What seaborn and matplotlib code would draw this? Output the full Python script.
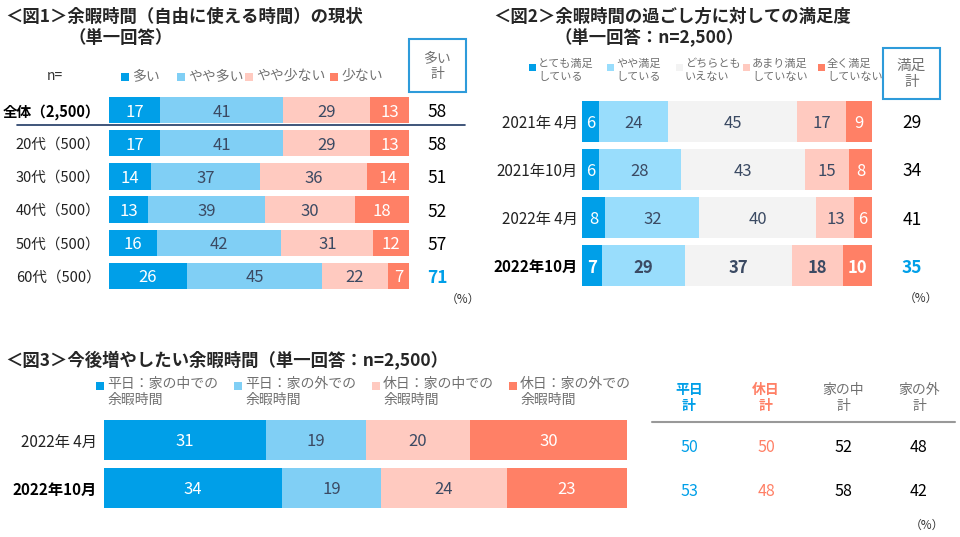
import numpy as np
import seaborn as sns
import matplotlib.pyplot as plt
from matplotlib.lines import Line2D
from matplotlib.patches import Rectangle

sns.set_theme(style="white")
plt.rcParams['font.family'] = ['Noto Sans CJK JP', 'DejaVu Sans']

# colours
dark_blue = "#009FE8"
light_blue = "#80CFF5"
light_blue2 = "#99DDFC"
neutral = "#F3F3F3"
pink = "#FFCAC0"
red = "#FF8066"
ink = "#3B4A63"
gray = "#707070"
box_blue = "#2E9BDA"

# Fig 1 data
fig1_rows = ['全体（2,500）', '20代（500）', '30代（500）', '40代（500）', '50代（500）', '60代（500）']
fig1_many = [17, 17, 14, 13, 16, 26]
fig1_bit_many = [41, 41, 37, 39, 42, 45]
fig1_bit_few = [29, 29, 36, 30, 31, 22]
fig1_few = [13, 13, 14, 18, 12, 7]
fig1_total = [58, 58, 51, 52, 57, 71]
fig1_legend = ['多い', 'やや多い', 'やや少ない', '少ない']

# Fig 2 data
fig2_rows = ['2021年 4月', '2021年10月', '2022年 4月', '2022年10月']
fig2_very = [6, 6, 8, 7]
fig2_some = [24, 28, 32, 29]
fig2_neither = [45, 43, 40, 37]
fig2_not_much = [17, 15, 13, 18]
fig2_not_at_all = [9, 8, 6, 10]
fig2_total = [29, 34, 41, 35]
fig2_legend = ['とても満足\nしている', 'やや満足\nしている', 'どちらとも\nいえない',
               'あまり満足\nしていない', '全く満足\nしていない']

# Fig 3 data
fig3_rows = ['2022年 4月', '2022年10月']
fig3_wd_in = [31, 34]
fig3_wd_out = [19, 19]
fig3_hd_in = [20, 24]
fig3_hd_out = [30, 23]
fig3_legend = ['平日：家の中での\n余暇時間', '平日：家の外での\n余暇時間',
               '休日：家の中での\n余暇時間', '休日：家の外での\n余暇時間']
fig3_cols = ['平日\n計', '休日\n計', '家の中\n計', '家の外\n計']
fig3_wd_total = [50, 53]
fig3_hd_total = [50, 48]
fig3_in_total = [52, 58]
fig3_out_total = [48, 42]

W, H = 960, 537
fig = plt.figure(figsize=(W / 100, H / 100), dpi=100)


def fx(x):
    return x / W


def fy(y):
    return 1 - y / H


def axes_px(left, right, top, bottom):
    return fig.add_axes([fx(left), fy(bottom), (right - left) / W, (bottom - top) / H])


def square(x, y, size, color):
    # legend key, x = left edge, y = vertical centre (pixels)
    fig.add_artist(Rectangle((fx(x), fy(y + size / 2)), size / W, size / H,
                             facecolor=color, edgecolor='none'))


def stacked(ax, rows, segments, colors, text_colors, width, bold_row=None,
            fs=11, bold_values=False, tick_fs=11, tick_pad=6):
    vals = np.array(segments, dtype=float)
    shares = vals / vals.sum(axis=0) * 100
    cum = shares.cumsum(axis=0)
    # draw cumulative bars from longest to shortest -> stacked look
    for k in range(len(segments) - 1, -1, -1):
        sns.barplot(x=cum[k], y=rows, order=rows, color=colors[k], width=width,
                    saturation=1, errorbar=None, orient='h', linewidth=0, ax=ax)
    for k in range(len(segments)):
        for i in range(len(rows)):
            w = 'bold' if (bold_values and i == bold_row) else 'normal'
            ax.text(cum[k][i] - shares[k][i] / 2, i, f"{int(vals[k][i])}",
                    ha='center', va='center_baseline', color=text_colors[k],
                    fontsize=fs, fontweight=w)
    ax.set_xlim(0, 100)
    ax.set_ylim(len(rows) - 0.5, -0.5)
    ax.set_xlabel('')
    ax.set_ylabel('')
    ax.set_xticks([])
    ax.set_yticks(range(len(rows)))
    ax.set_yticklabels(rows, fontsize=tick_fs)
    for i, lab in enumerate(ax.get_yticklabels()):
        if i == bold_row:
            lab.set_fontweight('bold')
            lab.set_color('black')
        else:
            lab.set_color('#222222')
    ax.tick_params(axis='y', length=0, pad=tick_pad)
    sns.despine(ax=ax, left=True, bottom=True)
    ax.set_facecolor('none')


# ---------------- Fig 1 ----------------
fig.text(fx(5), fy(17), '＜図1＞余暇時間（自由に使える時間）の現状', fontsize=12.5,
         fontweight='bold', va='center', ha='left')
fig.text(fx(68), fy(38), '（単一回答）', fontsize=12.5, fontweight='bold', va='center', ha='left')

ax1 = axes_px(109, 409, 93.5, 292.5)
stacked(ax1, fig1_rows, [fig1_many, fig1_bit_many, fig1_bit_few, fig1_few],
        [dark_blue, light_blue, pink, red], ['white', ink, ink, 'white'],
        width=0.79, bold_row=0, fs=12, tick_fs=10.5, tick_pad=6)
for i, v in enumerate(fig1_total):
    hi = i == len(fig1_total) - 1
    ax1.text(109.3, i, str(v), ha='center', va='center_baseline', fontsize=12.5,
             color=dark_blue if hi else 'black', fontweight='bold' if hi else 'normal',
             clip_on=False)
fig.text(fx(463), fy(299), '（%）', fontsize=8.5, ha='center', va='center', color='#333333')
fig.add_artist(Line2D([fx(17), fx(465)], [fy(124.5), fy(124.5)], color='#1F3864', lw=1.2))

fig.text(fx(55), fy(76), 'n=', fontsize=10, ha='center', va='center', color='#333333')
for x, c, lab in zip([121, 177, 245, 330], [dark_blue, light_blue, pink, red], fig1_legend):
    square(x, 77, 8, c)
    fig.text(fx(x + 11), fy(76), lab, color=gray, fontsize=10, ha='left', va='center')

fig.add_artist(Rectangle((fx(408.5), fy(92)), 57 / W, 53 / H, fill=False,
                         edgecolor=box_blue, lw=1.5))
fig.text(fx(437), fy(66), '多い\n計', fontsize=10, color=gray, ha='center', va='center',
         linespacing=1.2)

# ---------------- Fig 2 ----------------
fig.text(fx(493), fy(17), '＜図2＞余暇時間の過ごし方に対しての満足度', fontsize=12.5,
         fontweight='bold', va='center', ha='left')
fig.text(fx(554), fy(38), '（単一回答：n=2,500）', fontsize=12.5, fontweight='bold',
         va='center', ha='left')

ax2 = axes_px(582, 872, 97, 290)
stacked(ax2, fig2_rows, [fig2_very, fig2_some, fig2_neither, fig2_not_much, fig2_not_at_all],
        [dark_blue, light_blue2, neutral, pink, red], ['white', ink, ink, ink, 'white'],
        width=0.85, bold_row=3, fs=12, bold_values=True, tick_fs=11, tick_pad=3)
for i, v in enumerate(fig2_total):
    hi = i == len(fig2_total) - 1
    ax2.text(113.8, i, str(v), ha='center', va='center_baseline', fontsize=12.5,
             color=dark_blue if hi else 'black', fontweight='bold' if hi else 'normal',
             clip_on=False)
fig.text(fx(921), fy(298), '（%）', fontsize=8.5, ha='center', va='center', color='#333333')

for x, c, lab in zip([529, 607, 676, 743, 818],
                     [dark_blue, light_blue2, neutral, pink, red], fig2_legend):
    square(x, 67, 7, c)
    fig.text(fx(x + 9), fy(59), lab, color=gray, fontsize=8, ha='left', va='top',
             linespacing=1.3)

fig.add_artist(Rectangle((fx(883), fy(99)), 57 / W, 51 / H, fill=False,
                         edgecolor=box_blue, lw=1.5))
fig.text(fx(911.5), fy(74), '満足\n計', fontsize=10.5, color=gray, ha='center', va='center',
         linespacing=1.2)

# ---------------- Fig 3 ----------------
fig.text(fx(5), fy(361), '＜図3＞今後増やしたい余暇時間（単一回答：n=2,500）', fontsize=12.5,
         fontweight='bold', va='center', ha='left')

ax3 = axes_px(104, 627, 416, 512)
stacked(ax3, fig3_rows, [fig3_wd_in, fig3_wd_out, fig3_hd_in, fig3_hd_out],
        [dark_blue, light_blue, pink, red], ['white', ink, ink, 'white'],
        width=0.83, bold_row=1, fs=12, tick_fs=11, tick_pad=5)

for x, c, lab in zip([96, 234, 372, 509], [dark_blue, light_blue, pink, red], fig3_legend):
    square(x, 386, 8, c)
    fig.text(fx(x + 11), fy(377), lab, color=gray, fontsize=10, ha='left', va='top',
             linespacing=1.15)

col_x = [689, 766, 843, 919]
col_colors = [dark_blue, red, gray, gray]
col_vals = [fig3_wd_total, fig3_hd_total, fig3_in_total, fig3_out_total]
val_colors = [dark_blue, red, 'black', 'black']
for x, head, hc, vals, vc in zip(col_x, fig3_cols, col_colors, col_vals, val_colors):
    fig.text(fx(x), fy(398), head, color=hc, fontsize=10, ha='center', va='center',
             linespacing=1.2, fontweight='bold' if hc == dark_blue or hc == red else 'normal')
    for y, v in zip([447, 492], vals):
        fig.text(fx(x), fy(y), str(v), color=vc, fontsize=11.5, ha='center', va='center')
fig.add_artist(Line2D([fx(652), fx(955)], [fy(422), fy(422)], color='#999999', lw=1.5))
fig.text(fx(927), fy(525), '（%）', fontsize=8.5, ha='center', va='center', color='#333333')

fig.savefig('out.png', dpi=100)
